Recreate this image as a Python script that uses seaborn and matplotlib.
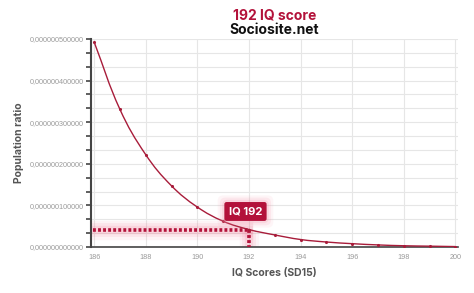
import matplotlib
matplotlib.use("Agg")
import matplotlib.pyplot as plt
from matplotlib.path import Path
from matplotlib.patches import PathPatch
from matplotlib.ticker import MultipleLocator, FuncFormatter
import numpy as np
import seaborn as sns
import pandas as pd

# IQ scores (SD 15) and share of the population (in %) at or above each score
iq_scores = [186, 187, 188, 189, 190, 191, 192, 193, 194, 195, 196, 197, 198, 199, 200]
population_ratio = [4.93e-7, 3.31e-7, 2.22e-7, 1.47e-7, 0.96e-7, 0.62e-7, 0.42e-7,
                    0.29e-7, 0.18e-7, 0.12e-7, 0.08e-7, 0.05e-7, 0.03e-7, 0.02e-7, 0.01e-7]
highlight_iq = 192
x_ticks = [186, 188, 190, 192, 194, 196, 198, 200]
y_ticks = [0, 1e-7, 2e-7, 3e-7, 4e-7, 5e-7]

title_main = f"{highlight_iq} IQ score"
title_sub = "Sociosite.net"
x_label = "IQ Scores (SD15)"
y_label = "Population ratio"

RED = "#a81c3a"
MARK = "#b3123a"
df = pd.DataFrame({"iq": iq_scores, "ratio": population_ratio})
hl_value = population_ratio[iq_scores.index(highlight_iq)]

sns.set_theme(style="white")
plt.rcParams["font.family"] = ["Inter", "DejaVu Sans"]

fig = plt.figure(figsize=(4.74, 2.93), dpi=100)
ax = fig.add_axes([91 / 474, 1 - 247 / 293, (458 - 91) / 474, (247 - 39) / 293])

XMIN, XMAX = 185.88, 200.1
ax.set_xlim(XMIN, XMAX)
ax.set_ylim(0, 5e-7)
ax.set_xticks(x_ticks)
ax.set_yticks(y_ticks)
ax.yaxis.set_minor_locator(MultipleLocator(1e-7 / 3))
ax.grid(True, which="both", color="#e6e6e6", linewidth=0.8)
ax.set_axisbelow(True)

# highlight glow + dotted guides
for lw, a in [(14, 0.07), (10, 0.09), (6, 0.12)]:
    ax.plot([XMIN, highlight_iq + 0.15], [hl_value, hl_value], color="#f06080",
            lw=lw, alpha=a, solid_capstyle="butt", zorder=2)
    ax.plot([highlight_iq, highlight_iq], [0, hl_value], color="#f06080",
            lw=lw, alpha=a, solid_capstyle="butt", zorder=2)
dot_style = dict(color=MARK, lw=2.6, linestyle=(0, (0.8, 0.6)),
                 dash_capstyle="butt", zorder=3)
ax.plot([185.95, highlight_iq + 0.05], [hl_value, hl_value], **dot_style)
ax.plot([highlight_iq, highlight_iq], [hl_value, 0], **dot_style)

# smooth curve through the data (cubic bezier with tension, built in pixel space)
fig.canvas.draw()
pts = ax.transData.transform(np.column_stack([iq_scores, population_ratio]))
tension = 0.4
verts, codes = [pts[0]], [Path.MOVETO]
cps = []
for i in range(len(pts)):
    prev = pts[max(i - 1, 0)]
    nxt = pts[min(i + 1, len(pts) - 1)]
    cur = pts[i]
    d01 = np.hypot(*(cur - prev))
    d12 = np.hypot(*(nxt - cur))
    tot = d01 + d12 if d01 + d12 > 0 else 1
    fa, fb = tension * d01 / tot, tension * d12 / tot
    cps.append((cur - fa * (nxt - prev), cur + fb * (nxt - prev)))
for i in range(1, len(pts)):
    verts += [cps[i - 1][1], cps[i][0], pts[i]]
    codes += [Path.CURVE4] * 3
curve = Path(ax.transData.inverted().transform(np.array(verts)), codes)
ax.add_patch(PathPatch(curve, fc="none", ec=RED, lw=1.0, zorder=4))

# data points
sns.scatterplot(data=df, x="iq", y="ratio", ax=ax, color=RED, s=5,
                linewidth=0, zorder=5, legend=False)

# label box with soft halo
label = f"IQ {highlight_iq}"
for pad, a in [(1.0, 0.08), (0.8, 0.12), (0.6, 0.18)]:
    ax.annotate(label, xy=(highlight_iq, hl_value), xytext=(-2.5, 13),
                textcoords="offset points", ha="center", va="center",
                fontsize=8, fontweight="bold", color="none", zorder=5,
                bbox=dict(boxstyle=f"round,pad={pad},rounding_size=0.5",
                          fc="#f48aa0", ec="none", alpha=a))
ax.annotate(label, xy=(highlight_iq, hl_value), xytext=(-2.5, 13),
            textcoords="offset points", ha="center", va="center",
            fontsize=8, fontweight="bold", color="white", zorder=6,
            bbox=dict(boxstyle="round,pad=0.4,rounding_size=0.2", fc=MARK, ec="none"))

# axes styling
for s in ["top", "right"]:
    ax.spines[s].set_visible(False)
ax.spines["left"].set_color("#444444")
ax.spines["left"].set_linewidth(1.5)
ax.spines["bottom"].set_color("#444444")
ax.spines["bottom"].set_linewidth(1.2)
ax.tick_params(axis="y", which="both", direction="out", length=3.5, width=1.2,
               color="#444444", left=True, pad=1.5)
ax.tick_params(axis="x", which="both", length=0, pad=5)
for t in ax.get_yticklabels() + ax.get_xticklabels():
    t.set_fontfamily(["Liberation Sans", "DejaVu Sans"])
    t.set_fontsize(5.2)
    t.set_color("#9a9a9a")
ax.yaxis.set_major_formatter(FuncFormatter(lambda v, p: f"{v:.12f}".replace(".", ",")))
ax.set_xlabel(x_label, fontsize=7.5, fontweight="bold", color="#555555", labelpad=5)
ax.set_ylabel(y_label, fontsize=7.5, fontweight="bold", color="#555555", labelpad=4)

fig.text(0.5 * (91 + 458) / 474, 1 - 16 / 293, title_main, ha="center", va="center",
         fontsize=10, fontweight="bold", color=MARK)
fig.text(0.5 * (91 + 458) / 474, 1 - 30 / 293, title_sub, ha="center", va="center",
         fontsize=10, fontweight="bold", color="#111111")

fig.savefig("out.png", dpi=100)
